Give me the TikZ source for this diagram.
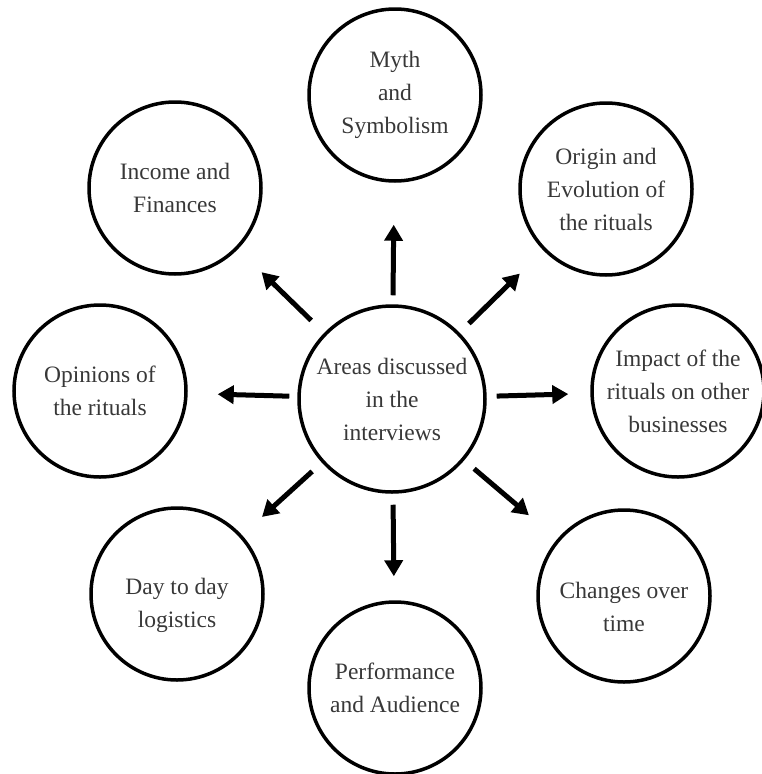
\documentclass[tikz,border=0pt]{standalone}
\usepackage{fontspec}
\setmainfont{Liberation Serif}
\usetikzlibrary{arrows.meta}
\definecolor{txt}{HTML}{383838}
\begin{document}
\begin{tikzpicture}[x=1pt,y=-1pt,
  topic/.style={circle,draw=black,line width=3.5pt,minimum size=172pt,inner sep=0pt,
    align=center,text=txt,font=\fontsize{23.5}{33}\selectfont},
  hub/.style={topic,minimum size=186pt},
  lowtext/.style={label={[align=center,text=txt,font=\fontsize{23.5}{33}\selectfont,yshift=-11pt]center:#1}},
  link/.style={line width=5pt,-{Triangle[length=16pt,width=18pt]}}]
\useasboundingbox (0,0) rectangle (761,774);
\node[hub]   (c)  at (392,399) {Areas discussed\\in the\\interviews};
\node[topic] (m)  at (395,95)  {Myth\\and\\Symbolism};
\node[topic] (i)  at (175,188) {Income and\\Finances};
\node[topic] (o)  at (606,189) {Origin and\\Evolution of\\the rituals};
\node[topic] (p)  at (100,391) {Opinions of\\the rituals};
\node[topic] (im) at (678,391) {Impact of the\\rituals on other\\businesses};
\node[topic,lowtext={Day to day\\logistics}] (d) at (177,594) {};
\node[topic] (pa) at (395,688) {Performance\\and Audience};
\node[topic,lowtext={Changes over\\time}] (ch) at (624,596) {};
\draw[link,shorten <=9pt,shorten >=42pt] (c) -- (m);
\draw[link,shorten <=18pt,shorten >=33pt] (c) -- (i);
\draw[link,shorten <=13pt,shorten >=33pt] (c) -- (o);
\draw[link,shorten <=8pt,shorten >=30pt] (c) -- (p);
\draw[link,shorten <=10pt,shorten >=22pt] (c) -- (im);
\draw[link,shorten <=13pt,shorten >=27pt] (c) -- (d);
\draw[link,shorten <=11pt,shorten >=24pt] (c) -- (pa);
\draw[link,shorten <=13pt,shorten >=37pt] (c) -- (ch);
\end{tikzpicture}
\end{document}
